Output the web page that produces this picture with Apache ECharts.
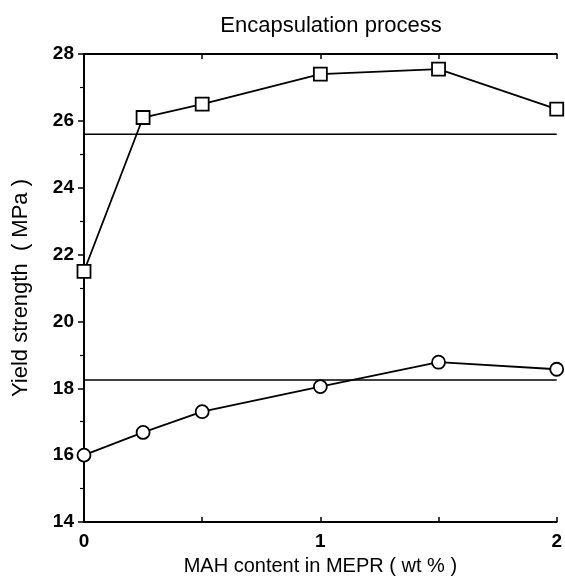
<!DOCTYPE html>
<html>
<head>
<meta charset="utf-8">
<script src="https://cdn.jsdelivr.net/npm/echarts@6/dist/echarts.min.js"></script>
<style>
  html, body {margin: 0; padding: 0; background: #fff;}
  #chart {width: 565px; height: 581px;}
</style>
</head>
<body>
<div id="chart"></div>
<script>
// MAH content (wt %)
var mahContent = [0, 0.25, 0.5, 1, 1.5, 2];
// yield strength, upper series (squares)
var squareValues = [21.5, 26.1, 26.5, 27.4, 27.55, 26.35];
// yield strength, lower series (circles)
var circleValues = [16.0, 16.68, 17.3, 18.05, 18.78, 18.57];
// horizontal reference levels
var upperLevel = 25.6;
var lowerLevel = 18.25;
var levelSpan = [0, 2];
var xTickLabels = {0: '0', 1: '1', 2: '2'};

function pairs(xs, ys) {
    return xs.map(function(x, i) { return [x, ys[i]]; });
}

var chart = echarts.init(document.getElementById('chart'));
var font = '"Liberation Sans", Arial, sans-serif';

var lineStyle = {color: '#000', width: 1.8};
var markStyle = {color: '#fff', borderColor: '#000', borderWidth: 1.8};

chart.setOption({
    animation: false,
    title: {
        text: 'Encapsulation process',
        left: 326, top: 10, textAlign: 'center',
        textStyle: {fontFamily: font, fontSize: 22, fontWeight: 'normal', color: '#000'}
    },
    grid: {left: 84, right: 8, top: 54, bottom: 59},
    xAxis: [{
        type: 'value', min: 0, max: 2, interval: 0.5,
        name: 'MAH content in MEPR ( wt % )',
        nameLocation: 'middle', nameGap: 34,
        nameTextStyle: {fontFamily: font, fontSize: 20, color: '#000'},
        axisLine: {lineStyle: {color: '#000', width: 1.8}},
        axisTick: {inside: true, length: 5, lineStyle: {color: '#000', width: 1.5}},
        axisLabel: {
            margin: 10, fontFamily: font, fontSize: 19, fontWeight: 'bold', color: '#000',
            formatter: function(v) { return xTickLabels[v] || ''; }
        },
        splitLine: {show: false}
    }, {
        type: 'value', position: 'top', min: 0, max: 2, interval: 0.5,
        axisLine: {lineStyle: {color: '#000', width: 1.8}},
        axisTick: {inside: true, length: 5, lineStyle: {color: '#000', width: 1.5}},
        axisLabel: {show: false},
        splitLine: {show: false}
    }],
    yAxis: [{
        type: 'value', min: 14, max: 28, interval: 2,
        name: 'Yield strength  ( MPa )',
        nameLocation: 'middle', nameGap: 52,
        nameTextStyle: {fontFamily: font, fontSize: 22, color: '#000'},
        axisLine: {show: true, lineStyle: {color: '#000', width: 1.8}},
        axisTick: {length: 6, lineStyle: {color: '#000', width: 1.5}},
        minorTick: {show: true, splitNumber: 2, length: 4, lineStyle: {color: '#000', width: 1.2}},
        axisLabel: {margin: 10, fontFamily: font, fontSize: 19, fontWeight: 'bold', color: '#000'},
        splitLine: {show: false}
    }, {
        type: 'value', position: 'right', min: 14, max: 28, interval: 2,
        axisLine: {show: true, lineStyle: {color: '#000', width: 1.8}},
        axisTick: {show: false},
        axisLabel: {show: false},
        splitLine: {show: false}
    }],
    series: [{
        type: 'line', data: pairs(levelSpan, [upperLevel, upperLevel]),
        symbol: 'none', lineStyle: {color: '#000', width: 1.5}, z: 1
    }, {
        type: 'line', data: pairs(levelSpan, [lowerLevel, lowerLevel]),
        symbol: 'none', lineStyle: {color: '#000', width: 1.5}, z: 1
    }, {
        type: 'line', data: pairs(mahContent, squareValues),
        symbol: 'rect', symbolSize: 13, lineStyle: lineStyle, itemStyle: markStyle, z: 3
    }, {
        type: 'line', data: pairs(mahContent, circleValues),
        symbol: 'circle', symbolSize: 13, lineStyle: lineStyle, itemStyle: markStyle, z: 3
    }]
});
</script>
</body>
</html>
